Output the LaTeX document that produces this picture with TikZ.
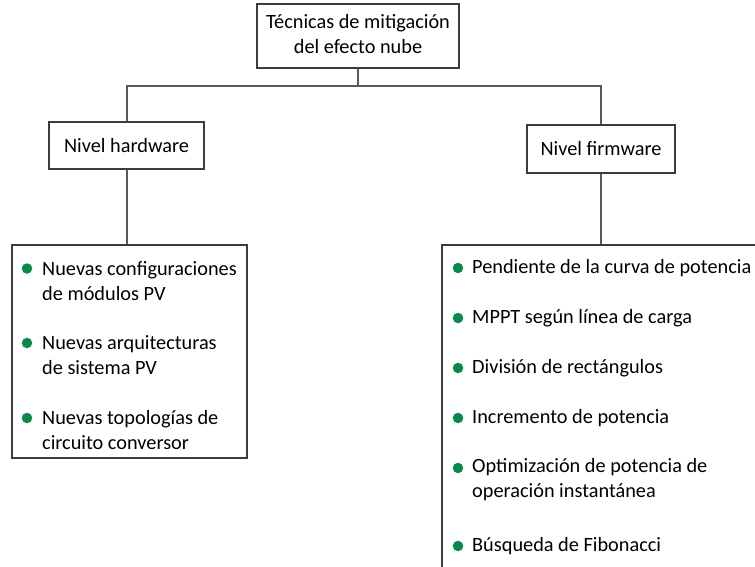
\documentclass[tikz,border=0pt]{standalone}
\usepackage{fontspec}
\setmainfont{Carlito}
\definecolor{boxline}{HTML}{3C3C3C}
\definecolor{conline}{HTML}{5A5A5A}
\definecolor{bul}{HTML}{0A8A4A}
\begin{document}
\begin{tikzpicture}[x=1pt,y=-1pt,
  box/.style={draw=boxline,line width=2.2pt,fill=white,inner sep=0pt},
  con/.style={draw=conline,line width=2pt},
  txt/.style={font=\fontsize{20.3}{25}\selectfont,text=black,inner sep=0pt},
  item/.style={txt,anchor=west,align=left},
  dot/.style={circle,fill=bul,inner sep=0pt,minimum size=10.5pt}]
\useasboundingbox (0,0) rectangle (755,567);
\clip (0,0) rectangle (755,567);
% boxes
\node[box,minimum width=202pt,minimum height=64pt] (top) at (358,36) {};
\node[txt,align=center] (toptxt) at (358,34) {Técnicas de mitigación\\del efecto nube};
\node[box,minimum width=155pt,minimum height=47pt] (hw) at (126.5,145.5) {};
\node[txt] (hwtxt) at (126.5,145.5) {Nivel hardware};
\node[box,minimum width=148pt,minimum height=48pt] (fw) at (601,149) {};
\node[txt] (fwtxt) at (601,149) {Nivel firmware};
\node[box,minimum width=235pt,minimum height=213pt] (ll) at (129.5,351.5) {};
\node[box,minimum width=330pt,minimum height=340pt] (rl) at (607,415) {};
% connectors
\coordinate (j) at (358,86);
\draw[con] (top.south) -- (j);
\draw[con] (hw.north) |- (j) -| (fw.north);
\draw[con] (hw.south) -- (hw.south |- ll.north);
\draw[con] (fw.south) -- (fw.south |- rl.north);
% left items
\node[dot] (d1) at (27,268.5) {};
\node[item] (t1) at (42,281) {Nuevas configuraciones\\de módulos PV};
\node[dot] (d2) at (27,343) {};
\node[item] (t2) at (42,355) {Nuevas arquitecturas\\de sistema PV};
\node[dot] (d3) at (27,418) {};
\node[item] (t3) at (42,430) {Nuevas topologías de\\circuito conversor};
% right items
\node[dot] (r1) at (458,268) {};
\node[item] (s1) at (472,268) {Pendiente de la curva de potencia};
\node[dot] (r2) at (458,318) {};
\node[item] (s2) at (472,318) {MPPT según línea de carga};
\node[dot] (r3) at (458,368) {};
\node[item] (s3) at (472,368) {División de rectángulos};
\node[dot] (r4) at (458,418) {};
\node[item] (s4) at (472,418) {Incremento de potencia};
\node[dot] (r5) at (458,468) {};
\node[item] (s5) at (472,480) {Optimización de potencia de\\operación instantánea};
\node[dot] (r6) at (458,546) {};
\node[item] (s6) at (472,546) {Búsqueda de Fibonacci};
\end{tikzpicture}
\end{document}
